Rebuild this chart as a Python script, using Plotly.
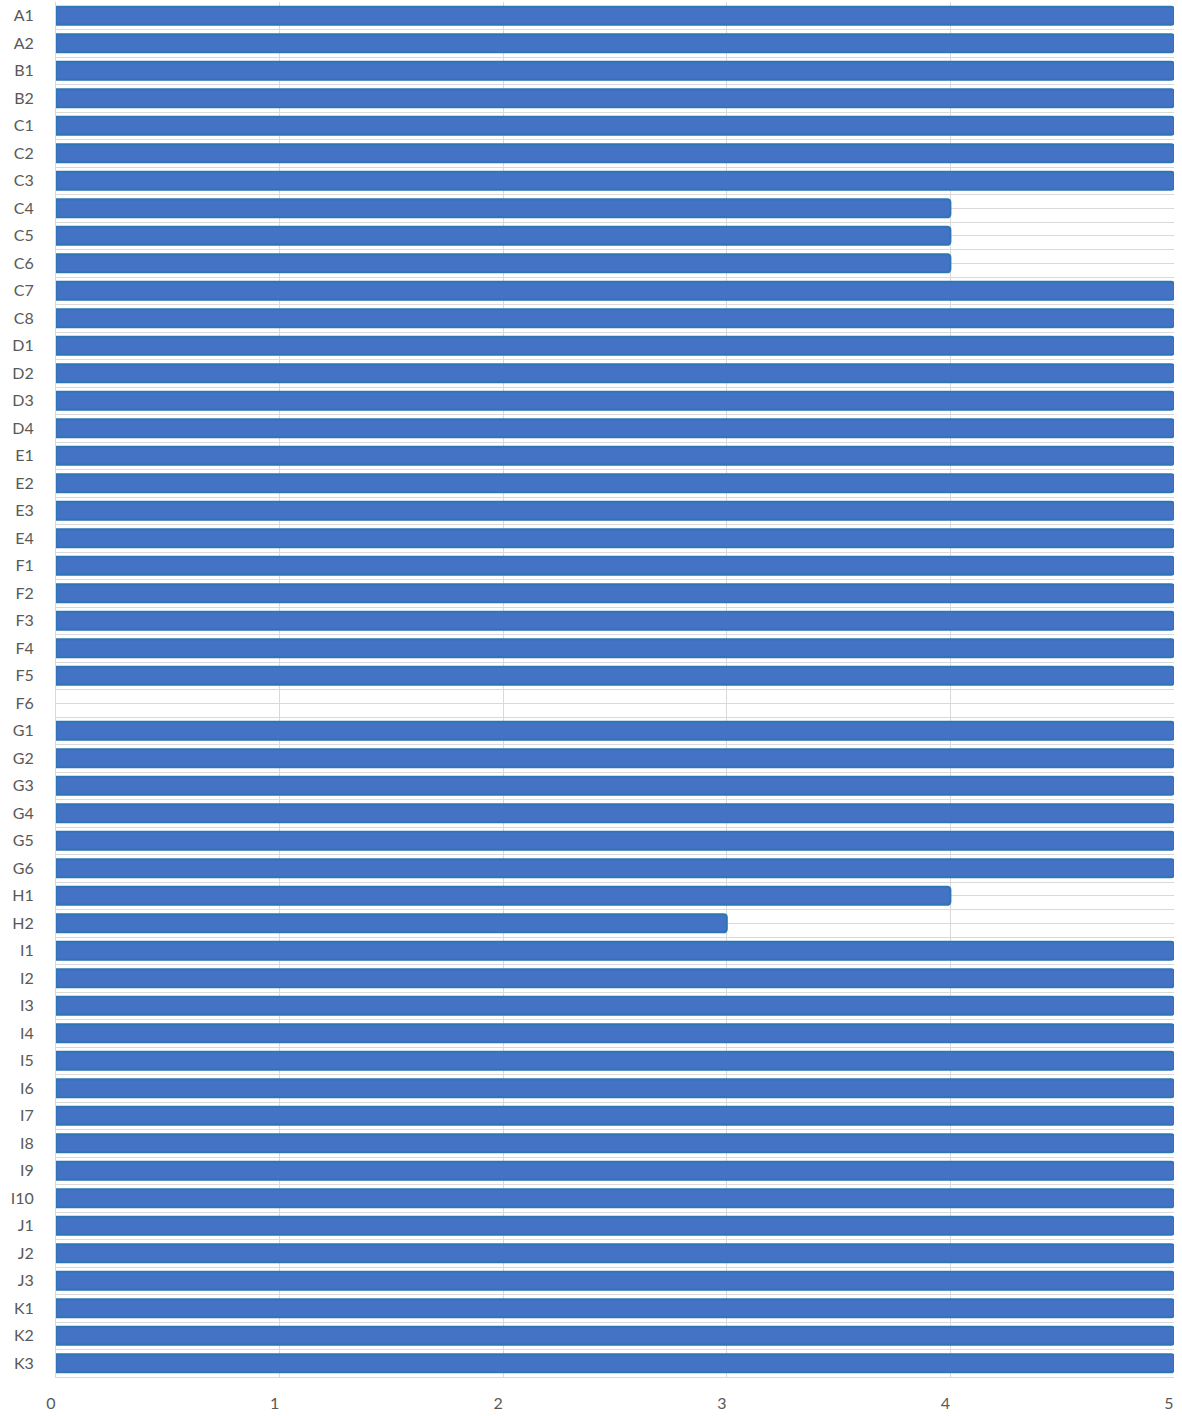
import plotly.graph_objects as go

categories = ["A1", "A2", "B1", "B2",
              "C1", "C2", "C3", "C4", "C5", "C6", "C7", "C8",
              "D1", "D2", "D3", "D4",
              "E1", "E2", "E3", "E4",
              "F1", "F2", "F3", "F4", "F5", "F6",
              "G1", "G2", "G3", "G4", "G5", "G6",
              "H1", "H2",
              "I1", "I2", "I3", "I4", "I5", "I6", "I7", "I8", "I9", "I10",
              "J1", "J2", "J3",
              "K1", "K2", "K3"]
values = [5, 5, 5, 5,
          5, 5, 5, 4, 4, 4, 5, 5,
          5, 5, 5, 5,
          5, 5, 5, 5,
          5, 5, 5, 5, 5, 0,
          5, 5, 5, 5, 5, 5,
          4, 3,
          5, 5, 5, 5, 5, 5, 5, 5, 5, 5,
          5, 5, 5,
          5, 5, 5]
x_ticks = [0, 1, 2, 3, 4, 5]

n = len(categories)
pos = list(range(n))
line_widths = [0 if v == 0 else 2 for v in values]

fig = go.Figure(go.Bar(
    x=values, y=pos, orientation="h",
    marker=dict(color="#4472C4", line=dict(color="#2E75B6", width=line_widths), cornerradius=3),
    width=0.66,
))

font = dict(family="Lato, Open Sans, sans-serif", size=16, color="#595959")
fig.update_layout(
    width=1182, height=1416,
    margin=dict(l=56, r=8, t=2, b=39, pad=0),
    plot_bgcolor="white", paper_bgcolor="white",
    showlegend=False, font=font,
)
fig.update_yaxes(
    range=[n - 0.5, -0.5], automargin=False,
    tickmode="array", tickvals=pos, ticktext=categories,
    showgrid=True, gridcolor="#D9D9D9", gridwidth=1,
    minor=dict(tickmode="array", tickvals=[i + 0.5 for i in range(-1, n)],
               showgrid=True, gridcolor="#D9D9D9", gridwidth=1),
    showline=True, linecolor="#D9D9D9", linewidth=1,
    ticks="", ticklabelstandoff=18, zeroline=False,
)
fig.update_xaxes(
    range=[0, 5], automargin=False, tickmode="array", tickvals=x_ticks,
    showgrid=True, gridcolor="#D9D9D9", gridwidth=1,
    showline=True, linecolor="#D9D9D9", linewidth=1, mirror=False,
    ticks="", ticklabelstandoff=12, ticklabelshift=-5, zeroline=False,
)

fig.write_html("out.html", config={"displayModeBar": False},
               post_script="document.body.style.margin='0px';")
